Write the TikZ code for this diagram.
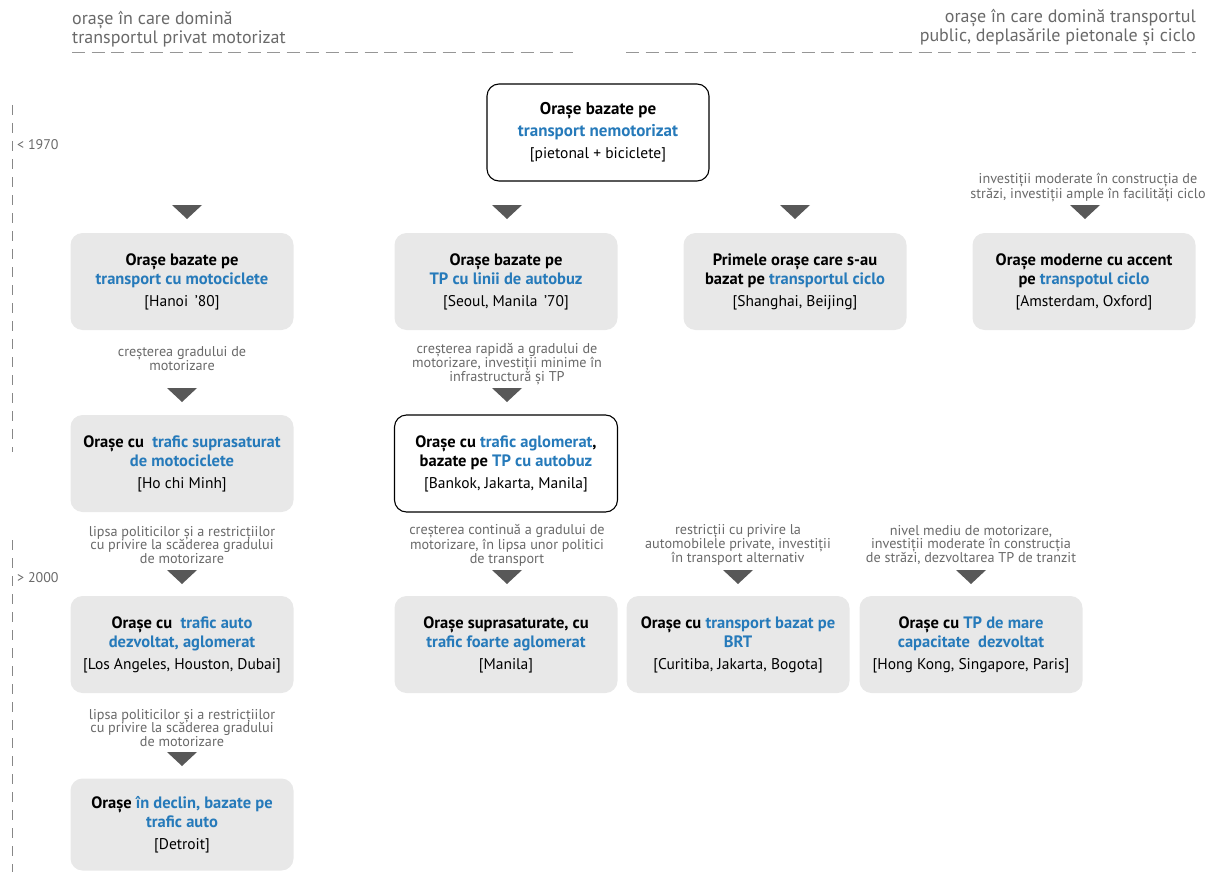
\documentclass[tikz,border=0pt]{standalone}
\usepackage{fontspec}
\setmainfont{PT Sans}
\definecolor{tblue}{RGB}{38,122,186}
\definecolor{tgray}{RGB}{105,105,105}
\definecolor{boxfill}{RGB}{232,232,232}
\definecolor{trigray}{RGB}{88,88,88}
\newcommand\bluet[1]{\textcolor{tblue}{#1}}
\newcommand\reg[1]{{\fontsize{15.5}{20}\selectfont #1}}
\newcommand\downtri[3]{\coordinate (#1) at (#2,#3); \fill[tri] ([xshift=-15pt]#1) -- ([xshift=15pt]#1) -- ([yshift=-14pt]#1) -- cycle;}
\tikzset{
  graybox/.style={fill=boxfill, draw=none, rounded corners=12pt, minimum width=223pt, minimum height=97pt, align=center, inner sep=0pt, font=\fontsize{16.5}{19.5}\selectfont},
  whitebox/.style={graybox, fill=white, draw=black, line width=1.1pt},
  note/.style={align=center, text=tgray, font=\fontsize{14.2}{13.8}\selectfont, inner sep=0pt},
  header/.style={text=tgray, font=\fontsize{18}{19.5}\selectfont, inner sep=0pt},
  dashline/.style={draw=tgray!70, line width=1pt, dash pattern=on 13pt off 6.5pt},
  timeline/.style={draw=tgray!80, line width=0.8pt, dash pattern=on 10pt off 8pt},
  tri/.style={fill=trigray},
  yearlabel/.style={text=tgray, font=\fontsize{14}{15}\selectfont, inner sep=0pt, anchor=west},
}
\begin{document}
\begin{tikzpicture}[x=1pt,y=-1pt]
\useasboundingbox (0,0) rectangle (1207,872);

% headers
\node[header, align=left, anchor=north west] (hl) at (72,11) {orașe în care domină\\transportul privat motorizat};
\node[header, align=right, anchor=north east] (hr) at (1196,9) {orașe în care domină transportul\\public, deplasările pietonale și ciclo};
\draw[dashline] (72,53) -- (578,53);
\draw[dashline] (626,53) -- (1196,53);

% timeline
\draw[timeline] (12,105) -- (12,452);
\draw[timeline] (12,540) -- (12,872);
\node[yearlabel] (y1) at (17,145) {< 1970};
\node[yearlabel] (y2) at (17,578) {> 2000};

% top
\node[whitebox, minimum width=222pt, font=\fontsize{17}{22}\selectfont] (top) at (598,132.5) {\textbf{Orașe bazate pe}\\\textbf{\bluet{transport nemotorizat}}\\\reg{[pietonal + biciclete]}};

% row 1
\downtri{t1}{187}{205}
\downtri{t2}{507}{205}
\downtri{t3}{795}{205}
\downtri{t4}{1085}{205}
\node[note] (n4) at (1088,187.5) {investiții moderate în construcția de\\străzi, investiții ample în facilități ciclo};

\node[graybox] (a1) at (182,281.5) {\textbf{Orașe bazate pe}\\\textbf{\bluet{transport cu motociclete}}\\[2pt]\reg{[Hanoi \,’80]}};
\node[graybox] (b1) at (506,281.5) {\textbf{Orașe bazate pe}\\\textbf{\bluet{TP cu linii de autobuz}}\\[2pt]\reg{[Seoul, Manila \,’70]}};
\node[graybox] (c1) at (795,281.5) {\textbf{Primele orașe care s-au}\\\textbf{bazat pe \bluet{transportul ciclo}}\\[2pt]\reg{[Shanghai, Beijing]}};
\node[graybox] (d1) at (1084,281.5) {\textbf{Orașe moderne cu accent}\\\textbf{pe \bluet{transpotul ciclo}}\\[2pt]\reg{[Amsterdam, Oxford]}};

% row 2
\node[note] (na2) at (182,358.5) {creșterea gradului de\\motorizare};
\node[note] (nb2) at (507,364) {creșterea rapidă a gradului de\\motorizare, investiții minime în\\infrastructură și TP};
\downtri{t5}{182}{388}
\downtri{t6}{507}{388}

\node[graybox] (a2) at (182,463.5) {\textbf{Orașe cu \ \bluet{trafic suprasaturat}}\\\textbf{\bluet{de motociclete}}\\[2pt]\reg{[Ho chi Minh]}};
\node[whitebox] (b2) at (506,463.5) {\textbf{Orașe cu \bluet{trafic aglomerat},}\\\textbf{bazate pe \bluet{TP cu autobuz}}\\[2pt]\reg{[Bankok, Jakarta, Manila]}};

% row 3
\node[note] (na3) at (182,545) {lipsa politicilor și a restricțiilor\\cu privire la scăderea gradului\\de motorizare};
\node[note] (nb3) at (507,545) {creșterea continuă a gradului de\\motorizare, în lipsa unor politici\\de transport};
\node[note] (nc3) at (738,545) {restricții cu privire la\\automobilele private, investiții\\în transport alternativ};
\node[note] (nd3) at (971,545) {nivel mediu de motorizare,\\investiții moderate în construcția\\de străzi, dezvoltarea TP de tranzit};
\downtri{t7}{182}{570}
\downtri{t8}{507}{570}
\downtri{t9}{738}{570}
\downtri{t10}{971}{570}

\node[graybox] (a3) at (182,644.5) {\textbf{Orașe cu \ \bluet{trafic auto}}\\\textbf{\bluet{dezvoltat, aglomerat}}\\[2pt]\reg{[Los Angeles, Houston, Dubai]}};
\node[graybox] (b3) at (506,644.5) {\textbf{Orașe suprasaturate, cu}\\\textbf{\bluet{trafic foarte aglomerat}}\\[2pt]\reg{[Manila]}};
\node[graybox] (c3) at (738,644.5) {\textbf{Orașe cu \bluet{transport bazat pe}}\\\textbf{\bluet{BRT}}\\[2pt]\reg{[Curitiba, Jakarta, Bogota]}};
\node[graybox] (d3) at (971,644.5) {\textbf{Orașe cu \bluet{TP de mare}}\\\textbf{\bluet{capacitate \ dezvoltat}}\\[2pt]\reg{[Hong Kong, Singapore, Paris]}};

% row 4
\node[note] (na4) at (182,728) {lipsa politicilor și a restricțiilor\\cu privire la scăderea gradului\\de motorizare};
\downtri{t11}{182}{752}
\node[graybox, minimum height=92pt] (a4) at (182,824.5) {\textbf{Orașe \bluet{în declin, bazate pe}}\\\textbf{\bluet{trafic auto}}\\[2pt]\reg{[Detroit]}};
\end{tikzpicture}
\end{document}
